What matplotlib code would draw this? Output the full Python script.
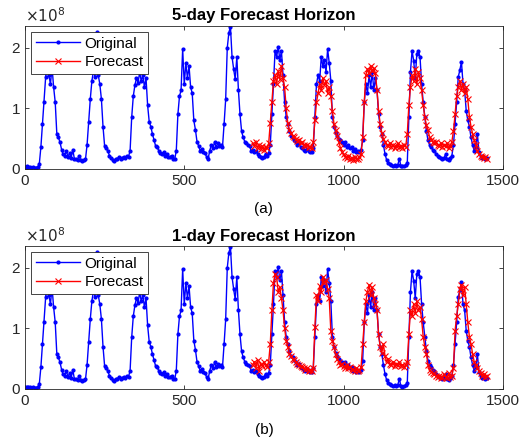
import matplotlib
matplotlib.use("Agg")
import matplotlib.pyplot as plt
from matplotlib.ticker import FuncFormatter
import numpy as np

plt.rcParams['font.family'] = ['Liberation Sans', 'DejaVu Sans']

# original series, x = 0..1450 step 5, values in units of 1e8
orig_x = list(range(0, 1455, 5))
orig_y = [
    0.03, 0.04, 0.03, 0.03, 0.02, 0.03, 0.02, 0.02, 0.03, 0.08, 0.36, 0.74, 1.10, 1.52, 1.75, 1.55, 1.40, 1.68, 1.35, 1.10,
    0.58, 0.52, 0.44, 0.32, 0.24, 0.22, 0.30, 0.20, 0.26, 0.18, 0.32, 0.17, 0.16, 0.15, 0.22, 0.14, 0.13, 0.15, 0.16, 0.40,
    0.78, 1.15, 1.45, 1.62, 1.52, 2.26, 1.55, 1.40, 1.15, 0.70, 0.38, 0.34, 0.30, 0.22, 0.18, 0.15, 0.13, 0.17, 0.16, 0.19,
    0.17, 0.18, 0.20, 0.18, 0.21, 0.20, 0.30, 0.85, 1.20, 1.38, 1.50, 1.42, 1.60, 1.45, 1.55, 1.35, 1.50, 1.05, 0.78, 0.70,
    0.58, 0.48, 0.38, 0.36, 0.30, 0.27, 0.25, 0.28, 0.22, 0.24, 0.20, 0.19, 0.22, 0.17, 0.16, 0.30, 0.90, 1.20, 1.30, 1.98,
    1.40, 1.75, 1.50, 1.70, 1.35, 1.25, 0.80, 0.65, 0.45, 0.38, 0.30, 0.33, 0.28, 0.26, 0.20, 0.17, 0.30, 0.40, 0.34, 0.44,
    0.36, 0.42, 0.38, 0.40, 0.36, 0.74, 1.15, 2.00, 2.25, 2.35, 1.85, 1.65, 1.48, 1.85, 1.30, 0.90, 0.62, 0.52, 0.45, 0.42,
    0.40, 0.38, 0.30, 0.32, 0.28, 0.30, 0.25, 0.22, 0.20, 0.18, 0.20, 0.25, 0.22, 0.26, 0.40, 0.90, 1.40, 1.95, 1.85, 2.02,
    1.80, 1.95, 1.55, 1.10, 0.86, 0.74, 0.62, 0.55, 0.52, 0.48, 0.45, 0.40, 0.42, 0.36, 0.35, 0.32, 0.30, 0.33, 0.29, 0.28,
    0.28, 0.35, 0.86, 1.40, 1.55, 1.45, 1.85, 1.70, 1.80, 1.60, 1.98, 1.75, 1.46, 0.86, 0.70, 0.60, 0.55, 0.50, 0.47, 0.44,
    0.40, 0.44, 0.36, 0.40, 0.34, 0.36, 0.30, 0.33, 0.28, 0.30, 0.28, 0.32, 0.47, 1.10, 1.40, 1.25, 1.55, 1.35, 1.60, 1.30,
    1.50, 1.30, 0.90, 0.70, 0.58, 0.40, 0.25, 0.15, 0.10, 0.08, 0.06, 0.05, 0.06, 0.05, 0.06, 0.17, 0.05, 0.04, 0.05, 0.06,
    0.10, 0.86, 1.60, 1.95, 1.79, 1.50, 1.90, 1.95, 1.85, 1.40, 1.10, 0.86, 0.63, 0.47, 0.40, 0.36, 0.32, 0.30, 0.25, 0.22,
    0.20, 0.18, 0.16, 0.18, 0.24, 0.16, 0.14, 0.18, 0.22, 0.40, 0.74, 1.10, 1.52, 1.63, 1.77, 1.40, 1.30, 0.96, 0.80, 0.70,
    0.52, 0.40, 0.30, 0.36, 0.58, 0.28, 0.22, 0.18, 0.20, 0.17, 0.18,
]

# forecasts, x = 715..1450 step 5
fc_x = list(range(715, 1455, 5))
fc5_y = [
    0.42, 0.38, 0.45, 0.35, 0.40, 0.33, 0.38, 0.32, 0.36, 0.35, 0.42, 0.75, 1.10, 1.45, 1.55, 1.40, 1.62, 1.48, 1.70, 1.50,
    1.35, 1.00, 0.75, 0.65, 0.60, 0.55, 0.52, 0.50, 0.46, 0.48, 0.42, 0.45, 0.40, 0.38, 0.40, 0.36, 0.37, 0.35, 0.45, 0.80,
    1.10, 1.25, 1.40, 1.30, 1.50, 1.38, 1.45, 1.25, 1.35, 1.20, 0.96, 0.74, 0.65, 0.55, 0.45, 0.35, 0.28, 0.24, 0.20, 0.18,
    0.22, 0.16, 0.18, 0.15, 0.20, 0.17, 0.16, 0.19, 0.25, 0.52, 1.10, 1.55, 1.65, 1.58, 1.70, 1.62, 1.66, 1.58, 1.30, 0.96,
    0.74, 0.60, 0.50, 0.45, 0.40, 0.38, 0.42, 0.36, 0.40, 0.35, 0.38, 0.42, 0.36, 0.38, 0.35, 0.40, 0.37, 0.58, 1.05, 1.35,
    1.55, 1.45, 1.65, 1.40, 1.60, 1.50, 1.30, 1.05, 0.86, 0.72, 0.65, 0.52, 0.48, 0.45, 0.42, 0.44, 0.40, 0.38, 0.42, 0.36,
    0.40, 0.38, 0.42, 0.35, 0.38, 0.45, 0.63, 0.90, 1.20, 1.35, 1.45, 1.30, 1.40, 1.25, 1.35, 1.15, 0.86, 0.70, 0.58, 0.48,
    0.40, 0.30, 0.25, 0.22, 0.20, 0.18, 0.20, 0.17,
]
fc1_y = [
    0.40, 0.45, 0.35, 0.48, 0.30, 0.42, 0.38, 0.44, 0.40, 0.36, 0.45, 0.74, 1.30, 1.75, 1.90, 1.85, 1.60, 1.68, 1.50, 1.30,
    1.00, 0.80, 0.70, 0.58, 0.55, 0.50, 0.48, 0.45, 0.42, 0.40, 0.38, 0.36, 0.35, 0.32, 0.34, 0.30, 0.31, 0.29, 0.35, 1.02,
    1.55, 1.45, 1.70, 1.60, 1.85, 1.75, 1.80, 1.65, 1.50, 0.96, 0.80, 0.70, 0.58, 0.50, 0.45, 0.40, 0.42, 0.38, 0.35, 0.40,
    0.34, 0.36, 0.33, 0.32, 0.30, 0.34, 0.30, 0.31, 0.36, 0.74, 1.10, 1.45, 1.60, 1.72, 1.55, 1.68, 1.50, 1.40, 1.30, 0.90,
    0.70, 0.60, 0.74, 0.55, 0.45, 0.50, 0.42, 0.40, 0.45, 0.38, 0.42, 0.40, 0.44, 0.38, 0.40, 0.36, 0.40, 0.45, 0.90, 1.30,
    1.20, 1.40, 1.25, 1.45, 1.30, 1.35, 1.15, 0.86, 0.70, 0.58, 0.40, 0.32, 0.28, 0.26, 0.24, 0.22, 0.20, 0.22, 0.18, 0.20,
    0.24, 0.20, 0.18, 0.26, 0.20, 0.22, 0.35, 0.96, 1.20, 1.40, 1.65, 1.72, 1.55, 1.68, 1.40, 1.10, 0.86, 0.74, 0.58, 0.45,
    0.40, 0.35, 0.30, 0.26, 0.22, 0.25, 0.20, 0.22,
]

titles = ["5-day Forecast Horizon", "1-day Forecast Horizon"]
captions = ["(a)", "(b)"]
forecasts = [fc5_y, fc1_y]

fig = plt.figure(figsize=(5.31, 4.41), dpi=100)
positions = [[0.047, 0.617, 0.900, 0.324], [0.047, 0.118, 0.900, 0.324]]

for i in range(2):
    ax = fig.add_axes(positions[i])
    ax.plot(orig_x, np.array(orig_y) * 1e8, color='b', marker='.', markersize=4,
            linewidth=1.0, label='Original')
    ax.plot(fc_x, np.array(forecasts[i]) * 1e8, color='r', marker='x', markersize=4,
            markeredgewidth=0.8, linewidth=1.0, label='Forecast')
    ax.set_xlim(0, 1500)
    ax.set_ylim(0, 2.36e8)
    ax.set_xticks([0, 500, 1000, 1500])
    ax.set_yticks([0, 1e8, 2e8])
    ax.yaxis.set_major_formatter(FuncFormatter(lambda v, p: '%g' % (v / 1e8)))
    ax.tick_params(direction='in', top=True, right=True, labelsize=11, length=3,
                   width=0.6, colors='#262626')
    for s in ax.spines.values():
        s.set_linewidth(0.6)
        s.set_color('#262626')
    ax.text(0.0, 1.01, r'$\times10^{8}$', transform=ax.transAxes, fontsize=11,
            color='#262626', ha='left', va='bottom')
    ax.set_title(titles[i], fontsize=12, fontweight='bold', pad=4)
    ax.text(0.5, -0.235, captions[i], transform=ax.transAxes, fontsize=11,
            ha='center', va='top')
    leg = ax.legend(loc='upper left', fontsize=11, fancybox=False, framealpha=1,
                    edgecolor='#262626', handlelength=2.9, borderpad=0.3,
                    labelspacing=0.3, handletextpad=0.3, borderaxespad=0.4)
    leg.get_frame().set_linewidth(0.6)

fig.savefig('out.png', dpi=100)
